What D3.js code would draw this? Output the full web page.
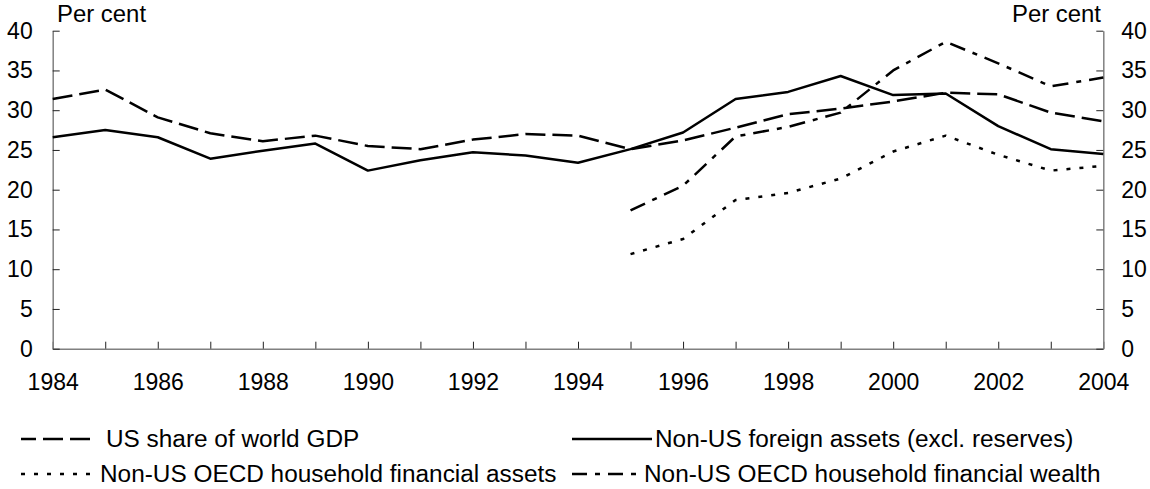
<!DOCTYPE html>
<html>
<head>
<meta charset="utf-8">
<script src="https://cdn.jsdelivr.net/npm/d3@7"></script>
<style>
  html, body { margin: 0; padding: 0; background: #fff; }
  svg { display: block; font-family: "Liberation Sans", Arial, sans-serif; }
</style>
</head>
<body>
<svg id="chart" width="1150" height="489"></svg>
<script>
const years = [1984,1985,1986,1987,1988,1989,1990,1991,1992,1993,1994,1995,1996,1997,1998,1999,2000,2001,2002,2003,2004];
const usGdp = [31.4,32.6,29.1,27.1,26.1,26.8,25.5,25.1,26.3,27.0,26.8,25.1,26.2,27.8,29.5,30.2,31.1,32.2,32.0,29.7,28.6];
const foreignAssets = [26.6,27.5,26.6,23.9,24.9,25.8,22.4,23.7,24.7,24.3,23.4,25.1,27.2,31.4,32.3,34.3,31.9,32.1,28.0,25.1,24.5];
const hhAssets = [null,null,null,null,null,null,null,null,null,null,null,11.9,13.8,18.7,19.6,21.4,24.8,26.8,24.4,22.4,23.0];
const hhWealth = [null,null,null,null,null,null,null,null,null,null,null,17.4,20.5,26.7,27.9,29.7,35.0,38.6,35.9,33.0,34.1];
const yTicks = [0,5,10,15,20,25,30,35,40];
const xLabelYears = [1984,1986,1988,1990,1992,1994,1996,1998,2000,2002,2004];
const seriesNames = ["US share of world GDP","Non-US foreign assets (excl. reserves)","Non-US OECD household financial assets","Non-US OECD household financial wealth"];

(function () {
const svg = d3.select("#chart");
const mLeft = 52.7, mRight = 1103.3, mTop = 30.7, mBottom = 348.7;
const x = d3.scaleLinear().domain([1984, 2004]).range([mLeft, mRight]);
const y = d3.scaleLinear().domain([0, 40]).range([mBottom, mTop]);
const FS = 23;

// axes
const xAxis = d3.axisBottom(x).tickValues(years).tickSizeInner(-7).tickSizeOuter(0).tickPadding(25)
  .tickFormat(d => xLabelYears.includes(d) ? String(d) : "");
const gx = svg.append("g").attr("transform", `translate(0,${mBottom})`).call(xAxis);

const yAxisL = d3.axisLeft(y).tickValues(yTicks).tickSizeInner(-7).tickSizeOuter(0).tickPadding(20);
const gyl = svg.append("g").attr("transform", `translate(${mLeft},0)`).call(yAxisL);
const yAxisR = d3.axisRight(y).tickValues(yTicks).tickSizeInner(-7).tickSizeOuter(0).tickPadding(18);
const gyr = svg.append("g").attr("transform", `translate(${mRight},0)`).call(yAxisR);

[gx, gyl, gyr].forEach(g => {
  g.select(".domain").attr("stroke", "#808080").attr("stroke-width", 1.5);
  g.selectAll(".tick line").attr("stroke", "#222").attr("stroke-width", 1);
  g.selectAll(".tick text").attr("font-size", FS).attr("fill", "#000")
    .attr("font-family", '"Liberation Sans", Arial, sans-serif');
});

// unit labels
svg.append("text").attr("transform", "translate(57,22) scale(1.04,1)").attr("font-size", FS).text("Per cent");
svg.append("text").attr("transform", "translate(1101,22) scale(1.04,1)").attr("font-size", FS).attr("text-anchor", "end").text("Per cent");

// series
const styles = [
  { data: usGdp, dash: "20,7" },
  { data: foreignAssets, dash: null },
  { data: hhAssets, dash: "4,9" },
  { data: hhWealth, dash: "16,8,5,8" }
];
const line = d3.line().defined(d => d[1] != null).x(d => x(d[0])).y(d => y(d[1]));
styles.forEach(s => {
  const pts = years.map((yr, i) => [yr, s.data[i]]);
  svg.append("path").datum(pts).attr("d", line)
    .attr("fill", "none").attr("stroke", "#000").attr("stroke-width", 2.5)
    .attr("stroke-linejoin", "round")
    .attr("stroke-dasharray", s.dash);
});

// legend
const legend = [
  { name: seriesNames[0], dash: "15,7,20,7,20", x1: 21, x2: 91, tx: 106, ly: 439, ty: 447 },
  { name: seriesNames[1], dash: null, x1: 572, x2: 652, tx: 655, ly: 439, ty: 447 },
  { name: seriesNames[2], dash: "4,9", x1: 21, x2: 98, tx: 100, ly: 474, ty: 482 },
  { name: seriesNames[3], dash: "15,8,5,8", x1: 572, x2: 640, tx: 644, ly: 474, ty: 482 }
];
legend.forEach(l => {
  svg.append("line").attr("x1", l.x1).attr("x2", l.x2).attr("y1", l.ly).attr("y2", l.ly)
    .attr("stroke", "#000").attr("stroke-width", 2.5).attr("stroke-dasharray", l.dash);
  svg.append("text").attr("transform", `translate(${l.tx},${l.ty}) scale(1.06,1)`)
    .attr("font-size", FS).text(l.name);
});
})();
</script>
</body>
</html>
